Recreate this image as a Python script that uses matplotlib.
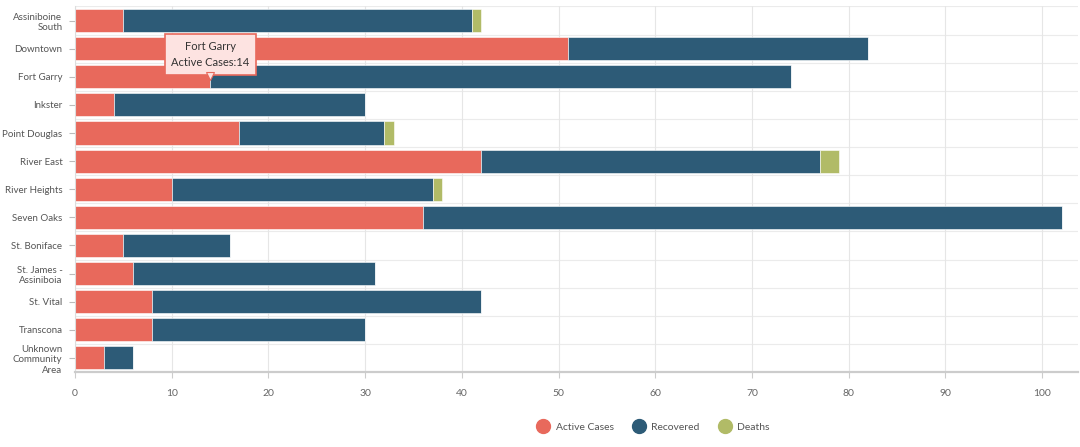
import numpy as np
import matplotlib.pyplot as plt
from matplotlib.lines import Line2D

areas = ['Assiniboine\nSouth', 'Downtown', 'Fort Garry', 'Inkster', 'Point Douglas',
         'River East', 'River Heights', 'Seven Oaks', 'St. Boniface',
         'St. James -\nAssiniboia', 'St. Vital', 'Transcona', 'Unknown\nCommunity\nArea']
active = np.array([5, 51, 14, 4, 17, 42, 10, 36, 5, 6, 8, 8, 3])
recovered = np.array([36, 31, 60, 26, 15, 35, 27, 66, 11, 25, 34, 22, 3])
deaths = np.array([1, 0, 0, 0, 1, 2, 1, 0, 0, 0, 0, 0, 0])
series = ['Active Cases', 'Recovered', 'Deaths']
colors = ['#e8695c', '#2d5b77', '#b1bb67']

plt.rcParams['font.family'] = ['Lato', 'DejaVu Sans']

fig = plt.figure(figsize=(10.8, 4.47), dpi=100)
ax = fig.add_axes([0.0694, 0.1678, 0.9287, 0.8177])

y = np.arange(len(areas))
h = 0.82
ax.barh(y, active, height=h, color=colors[0], edgecolor='white', linewidth=0.4)
ax.barh(y, recovered, left=active, height=h, color=colors[1], edgecolor='white', linewidth=0.4)
ax.barh(y, deaths, left=active + recovered, height=h, color=colors[2], edgecolor='white', linewidth=0.4)

ax.set_ylim(len(areas) - 0.5, -0.5)
ax.set_xlim(0, 103.7)
ax.set_xticks(np.arange(0, 101, 10))
ax.set_yticks(y)
ax.set_yticklabels(areas, fontsize=7, color='#555555', linespacing=1.2)
ax.tick_params(axis='x', labelsize=7.5, labelcolor='#666666', color='#cccccc', length=4, pad=8)
ax.tick_params(axis='y', color='#bbbbbb', length=4, pad=5)

# grid: vertical at ticks, horizontal at row boundaries
ax.set_axisbelow(True)
ax.grid(axis='x', color='#e6e6e6', linewidth=0.8)
for b in np.arange(-0.5, len(areas), 1):
    ax.axhline(b, color='#ebebeb', linewidth=0.8, zorder=0)

for s in ['top', 'right']:
    ax.spines[s].set_visible(False)
ax.spines['left'].set_color('#dddddd')
ax.spines['bottom'].set_color('#cccccc')
ax.spines['bottom'].set_linewidth(1.6)

# tooltip on Fort Garry
i = areas.index('Fort Garry')
ax.text(active[i], i - 0.79, 'Fort Garry\nActive Cases:' + str(active[i]),
        ha='center', va='center', fontsize=8, color='#333333', linespacing=1.55,
        bbox=dict(boxstyle='square,pad=0.6', facecolor='#fde3e1', edgecolor='#e8695c', linewidth=1.2),
        zorder=5)
ax.plot(active[i], i - 0.03, marker='v', markersize=6, color='#fde3e1',
        markeredgecolor='#e8695c', markeredgewidth=0.8, zorder=6, clip_on=False)

handles = [Line2D([], [], marker='o', linestyle='', markersize=10, color=c) for c in colors]
fig.legend(handles, series, loc='center', bbox_to_anchor=(0.603, 0.045), ncol=3,
           frameon=False, fontsize=7.5, labelcolor='#555555', handletextpad=0.2,
           columnspacing=1.4)

fig.savefig('out.png', dpi=100)
